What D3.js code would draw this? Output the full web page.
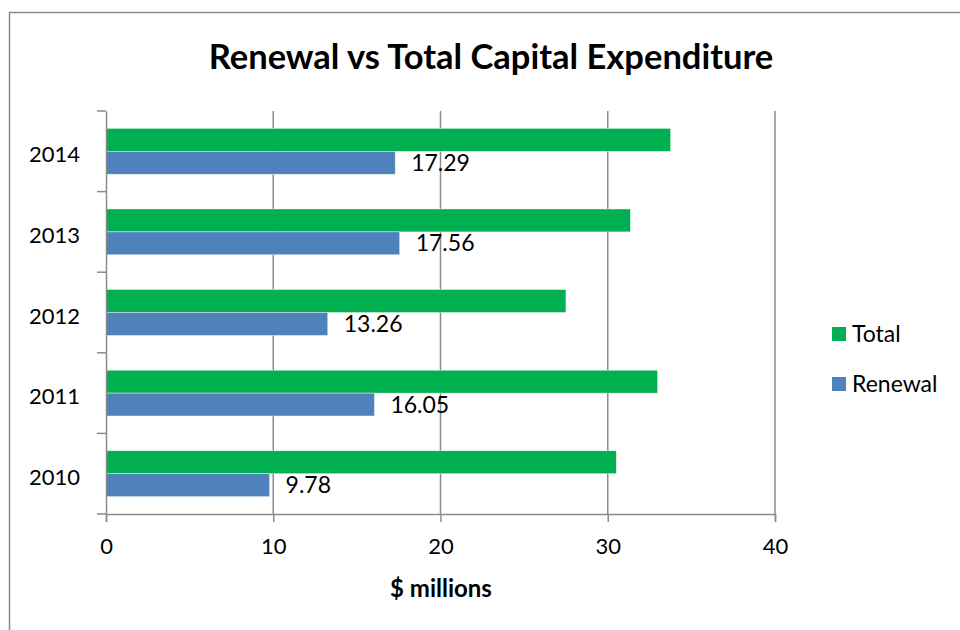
<!DOCTYPE html>
<html><head><meta charset="utf-8">
<script src="https://cdn.jsdelivr.net/npm/d3@7"></script>
<style>body{margin:0;background:#fff}text{font-family:Lato,"Open Sans",sans-serif}</style>
</head><body><svg id="c" width="960" height="630"></svg>
<script>
const years = ["2010","2011","2012","2013","2014"];
const totalValues = [30.51, 32.98, 27.50, 31.35, 33.76];
const renewalValues = [9.78, 16.05, 13.26, 17.56, 17.29];
const renewalLabels = ["9.78","16.05","13.26","17.56","17.29"];
const xTicks = [0,10,20,30,40];
const seriesNames = ["Total","Renewal"];
const seriesColors = ["#00B050","#4F81BD"];

const svg = d3.select("#c");
svg.append("rect").attr("x",0).attr("y",0).attr("width",960).attr("height",630).attr("fill","#fff");
svg.append("path").attr("d","M9.5,640 V12.5 H970").attr("fill","none").attr("stroke","#8c8c8c").attr("stroke-width",1.5);

svg.append("text").attr("x",491).attr("y",69).attr("text-anchor","middle")
  .attr("font-size",34.5).attr("font-weight","bold").attr("fill","#000")
  .text("Renewal vs Total Capital Expenditure");

const pLeft=106, pRight=775, pTop=111, pBottom=514;
const x = d3.scaleLinear().domain([0,40]).range([pLeft,pRight]);
const y = d3.scaleBand().domain(years.slice().reverse()).range([pTop,pBottom]).padding(0);
const sub = d3.scaleBand().domain(seriesNames).range([0,y.bandwidth()]).paddingInner(0).paddingOuter(0.76);

const gridC = "#8c8c8c";
svg.append("g").selectAll("line").data(xTicks.slice(1)).join("line")
  .attr("x1",d=>x(d)).attr("x2",d=>x(d)).attr("y1",pTop).attr("y2",pBottom)
  .attr("stroke",gridC).attr("stroke-width",1.5);

const rows = years.map((yr,i)=>({yr, vals:[totalValues[i], renewalValues[i]], label:renewalLabels[i]}));
const g = svg.append("g");
rows.forEach(r=>{
  r.vals.forEach((v,j)=>{
    g.append("rect").attr("x",x(0)).attr("y",y(r.yr)+sub(seriesNames[j]))
      .attr("width",x(v)-x(0)).attr("height",sub.bandwidth())
      .attr("fill",seriesColors[j]).attr("stroke","#e8f2e8").attr("stroke-width",0.5);
  });
  g.append("text").attr("x",x(r.vals[1])+16).attr("y",y(r.yr)+sub("Renewal")+sub.bandwidth()/2+8)
    .attr("font-size",23).attr("fill","#000").text(r.label);
});

const xa = svg.append("g").attr("transform",`translate(0,${pBottom})`)
  .call(d3.axisBottom(x).tickValues(xTicks).tickSize(8).tickPadding(16).tickFormat(d3.format("d")));
xa.select(".domain").attr("stroke",gridC).attr("stroke-width",1.5);
xa.selectAll(".tick line").attr("stroke",gridC).attr("stroke-width",1.5);
xa.selectAll(".tick text").attr("font-size",22).attr("fill","#000").attr("font-family","Lato");

const ya = svg.append("g").attr("transform",`translate(${pLeft},0)`)
  .call(d3.axisLeft(y).tickSize(0).tickPadding(26));
ya.select(".domain").attr("stroke",gridC).attr("stroke-width",1.5);
ya.selectAll(".tick text").attr("font-size",22).attr("fill","#000").attr("font-family","Lato").attr("dy","0.5em");
const bounds = years.map(yr=>y(yr)).concat([pBottom]);
svg.append("g").selectAll("line").data(bounds).join("line")
  .attr("x1",pLeft-9).attr("x2",pLeft).attr("y1",d=>d).attr("y2",d=>d)
  .attr("stroke",gridC).attr("stroke-width",1.5);

svg.append("text").attr("x",441).attr("y",597).attr("text-anchor","middle")
  .attr("font-size",24).attr("font-weight","bold").attr("fill","#000").text("$ millions");

const lg = svg.append("g").attr("transform","translate(832,0)");
seriesNames.forEach((n,i)=>{
  const cy = 334 + i*50;
  lg.append("rect").attr("x",0).attr("y",cy-7).attr("width",14).attr("height",14).attr("fill",seriesColors[i]);
  lg.append("text").attr("x",20).attr("y",cy+8).attr("font-size",23).attr("fill","#000").text(n);
});
</script></body></html>
